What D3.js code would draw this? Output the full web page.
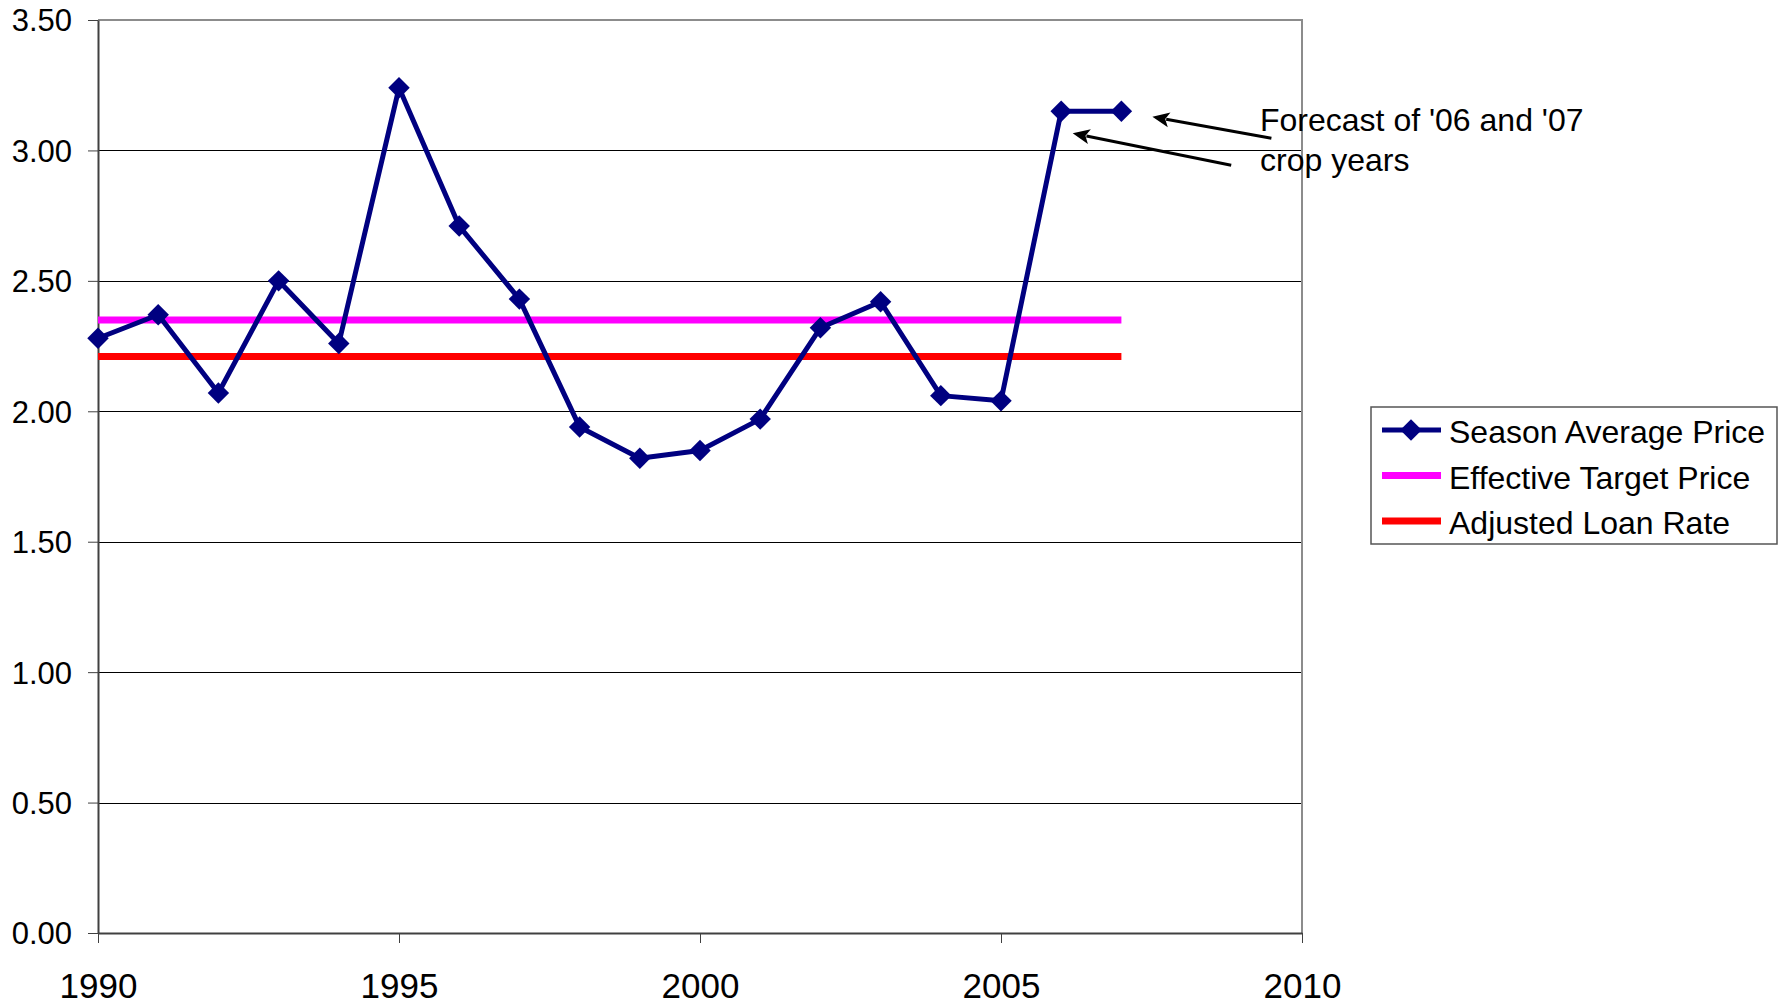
<!DOCTYPE html>
<html>
<head>
<meta charset="utf-8">
<script src="https://cdn.jsdelivr.net/npm/d3@7"></script>
<style>
  html, body { margin: 0; padding: 0; background: #fff; }
  svg { display: block; font-family: Arial, "Liberation Sans", sans-serif; }
</style>
</head>
<body>
<svg id="chart" width="1789" height="1005"></svg>
<script>
// Crop years and season average price ($/bu)
const years = [1990, 1991, 1992, 1993, 1994, 1995, 1996, 1997, 1998, 1999,
               2000, 2001, 2002, 2003, 2004, 2005, 2006, 2007];
const seasonAveragePrice = [2.28, 2.37, 2.07, 2.50, 2.26, 3.24, 2.71, 2.43, 1.94, 1.82,
                            1.85, 1.97, 2.32, 2.42, 2.06, 2.04, 3.15, 3.15];
// Flat program levels over the same span
const effectiveTargetPrice = [2.35, 2.35];
const adjustedLoanRate = [2.21, 2.21];
const levelYears = [1990, 2007];

const yTicks = [0, 0.5, 1.0, 1.5, 2.0, 2.5, 3.0, 3.5];
const xTicks = [1990, 1995, 2000, 2005, 2010];

const seriesNames = ["Season Average Price", "Effective Target Price", "Adjusted Loan Rate"];
const seriesColors = ["#000080", "#FF00FF", "#FF0000"];
const noteLines = ["Forecast of '06 and '07", "crop years"];

const svg = d3.select("#chart");
const plot = { left: 98, right: 1302, top: 20, bottom: 933 };

const x = d3.scaleLinear().domain([1990, 2010]).range([plot.left, plot.right]);
const y = d3.scaleLinear().domain([0, 3.5]).range([plot.bottom, plot.top]);

// Horizontal gridlines
svg.append("g")
  .selectAll("line")
  .data(yTicks.filter(d => d > 0 && d < 3.5))
  .join("line")
  .attr("x1", plot.left).attr("x2", plot.right)
  .attr("y1", d => Math.round(y(d)) + 0.5).attr("y2", d => Math.round(y(d)) + 0.5)
  .attr("stroke", "#000").attr("stroke-width", 1);

// Plot area frame (top and right)
svg.append("path")
  .attr("d", `M${plot.left},${plot.top}H${plot.right}V${plot.bottom}`)
  .attr("fill", "none").attr("stroke", "#8c8c8c").attr("stroke-width", 2);

// Y axis
const yAxis = svg.append("g")
  .attr("transform", `translate(${plot.left},0)`)
  .call(d3.axisLeft(y).tickValues(yTicks).tickFormat(d3.format(".2f"))
    .tickSize(10).tickPadding(16).tickSizeOuter(0));
yAxis.select(".domain").attr("stroke", "#404040").attr("stroke-width", 2);
yAxis.selectAll(".tick line").attr("stroke", "#404040").attr("stroke-width", 1);
yAxis.selectAll(".tick text")
  .attr("font-size", 31).attr("fill", "#000")
  .attr("font-family", "Arial, 'Liberation Sans', sans-serif")
  .attr("dy", "0.35em");

// X axis
const xAxis = svg.append("g")
  .attr("transform", `translate(0,${plot.bottom})`)
  .call(d3.axisBottom(x).tickValues(xTicks).tickFormat(d3.format("d"))
    .tickSize(10).tickSizeOuter(0));
xAxis.select(".domain").attr("stroke", "#404040").attr("stroke-width", 2);
xAxis.selectAll(".tick line").attr("stroke", "#404040").attr("stroke-width", 1);
xAxis.selectAll(".tick text")
  .attr("font-size", 35).attr("fill", "#000")
  .attr("font-family", "Arial, 'Liberation Sans', sans-serif")
  .attr("y", 65).attr("dy", 0);

// Program level lines
const levelLine = d3.line().x(d => x(d[0])).y(d => y(d[1]));
svg.append("path")
  .datum(levelYears.map((yr, i) => [yr, effectiveTargetPrice[i]]))
  .attr("d", levelLine).attr("fill", "none")
  .attr("stroke", seriesColors[1]).attr("stroke-width", 7);
svg.append("path")
  .datum(levelYears.map((yr, i) => [yr, adjustedLoanRate[i]]))
  .attr("d", levelLine).attr("fill", "none")
  .attr("stroke", seriesColors[2]).attr("stroke-width", 7);

// Season average price line with diamond markers
const priceData = years.map((yr, i) => [yr, seasonAveragePrice[i]]);
svg.append("path")
  .datum(priceData)
  .attr("d", d3.line().x(d => x(d[0])).y(d => y(d[1])))
  .attr("fill", "none").attr("stroke", seriesColors[0])
  .attr("stroke-width", 5).attr("stroke-linejoin", "round");

const diamond = d3.symbol().type(d3.symbolSquare).size(230);
svg.append("g")
  .selectAll("path")
  .data(priceData)
  .join("path")
  .attr("d", diamond)
  .attr("transform", d => `translate(${x(d[0])},${y(d[1])}) rotate(45)`)
  .attr("fill", seriesColors[0]);

// Forecast note with arrows pointing at the 2006 and 2007 points
const arrows = [
  { from: [x(2007) + 150, y(3.15) + 27], to: [x(2007) + 31, y(3.15) + 5.5] },
  { from: [x(2006) + 170, y(3.15) + 54], to: [x(2006) + 11.5, y(3.15) + 22] }
];
const arrowG = svg.append("g");
arrows.forEach(a => {
  const [x1, y1] = a.from, [x2, y2] = a.to;
  const ang = Math.atan2(y2 - y1, x2 - x1);
  const len = 17, half = 7.5;
  const bx = x2 - len * Math.cos(ang), by = y2 - len * Math.sin(ang);
  const nx = -Math.sin(ang), ny = Math.cos(ang);
  arrowG.append("line")
    .attr("x1", x1).attr("y1", y1).attr("x2", bx + 3 * Math.cos(ang)).attr("y2", by + 3 * Math.sin(ang))
    .attr("stroke", "#000").attr("stroke-width", 3);
  arrowG.append("path")
    .attr("d", `M${x2},${y2}L${bx + nx * half},${by + ny * half}L${bx + 4 * Math.cos(ang)},${by + 4 * Math.sin(ang)}L${bx - nx * half},${by - ny * half}Z`)
    .attr("fill", "#000");
});

svg.append("g")
  .selectAll("text")
  .data(noteLines)
  .join("text")
  .attr("x", 1260)
  .attr("y", (d, i) => 131 + i * 40)
  .attr("font-size", 32).attr("fill", "#000")
  .text(d => d);

// Legend
const legend = svg.append("g").attr("transform", "translate(1371,407)");
legend.append("rect")
  .attr("width", 406).attr("height", 137)
  .attr("fill", "#fff").attr("stroke", "#555").attr("stroke-width", 1.5);
const rows = legend.selectAll("g.row")
  .data(seriesNames)
  .join("g")
  .attr("class", "row")
  .attr("transform", (d, i) => `translate(0,${23 + i * 45.5})`);
rows.append("line")
  .attr("x1", 11).attr("x2", 70).attr("y1", 0).attr("y2", 0)
  .attr("stroke", (d, i) => seriesColors[i])
  .attr("stroke-width", (d, i) => i === 0 ? 5 : 7);
rows.filter((d, i) => i === 0)
  .append("path")
  .attr("d", diamond)
  .attr("transform", "translate(40,0) rotate(45)")
  .attr("fill", seriesColors[0]);
rows.append("text")
  .attr("x", 78).attr("y", 13)
  .attr("font-size", 32).attr("fill", "#000")
  .text(d => d);
</script>
</body>
</html>
